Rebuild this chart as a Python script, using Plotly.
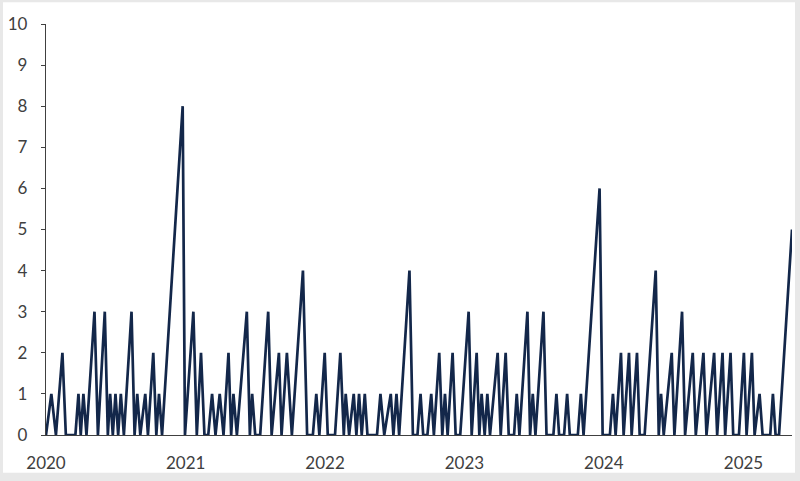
import plotly.graph_objects as go

dates = [
    "2020-01-01", "2020-01-15", "2020-01-27", "2020-02-13", "2020-02-22", "2020-03-18", "2020-03-26",
    "2020-04-01", "2020-04-08", "2020-04-16", "2020-05-07", "2020-05-16", "2020-06-03", "2020-06-11",
    "2020-06-17", "2020-06-24", "2020-07-01", "2020-07-08", "2020-07-15", "2020-07-23", "2020-08-12",
    "2020-08-20", "2020-08-27", "2020-09-04", "2020-09-17", "2020-09-24", "2020-10-08", "2020-10-16",
    "2020-10-23", "2020-10-31", "2020-12-24", "2020-12-30",
    "2021-01-21", "2021-01-30", "2021-02-10", "2021-02-19", "2021-03-01", "2021-03-11", "2021-03-20",
    "2021-03-31", "2021-04-10", "2021-04-23", "2021-04-30", "2021-05-06", "2021-05-15", "2021-06-10",
    "2021-06-18", "2021-06-24", "2021-07-02", "2021-07-15", "2021-08-05", "2021-08-14", "2021-09-02",
    "2021-09-09", "2021-09-23", "2021-10-06", "2021-11-04", "2021-11-15", "2021-11-30", "2021-12-09",
    "2021-12-17", "2021-12-31",
    "2022-01-08", "2022-01-27", "2022-02-10", "2022-02-19", "2022-02-24", "2022-03-05", "2022-03-17",
    "2022-03-24", "2022-03-31", "2022-04-07", "2022-04-15", "2022-04-22", "2022-05-17", "2022-05-26",
    "2022-06-05", "2022-06-22", "2022-06-29", "2022-07-07", "2022-07-14", "2022-08-10", "2022-08-19",
    "2022-08-31", "2022-09-08", "2022-09-15", "2022-09-26", "2022-10-06", "2022-10-13", "2022-10-27",
    "2022-11-04", "2022-11-11", "2022-11-18", "2022-12-01", "2022-12-09", "2022-12-21",
    "2023-01-12", "2023-01-20", "2023-02-02", "2023-02-09", "2023-02-15", "2023-02-23", "2023-03-02",
    "2023-03-09", "2023-03-29", "2023-04-06", "2023-04-19", "2023-04-27", "2023-05-11", "2023-05-18",
    "2023-05-25", "2023-06-15", "2023-06-22", "2023-06-29", "2023-07-06", "2023-07-27", "2023-08-04",
    "2023-08-22", "2023-08-30", "2023-09-06", "2023-09-19", "2023-09-27", "2023-10-04", "2023-10-25",
    "2023-11-02", "2023-11-09", "2023-12-21", "2023-12-29",
    "2024-01-17", "2024-01-25", "2024-02-01", "2024-02-15", "2024-02-22", "2024-03-07", "2024-03-14",
    "2024-03-28", "2024-04-04", "2024-04-17", "2024-05-16", "2024-05-24", "2024-05-30", "2024-06-06",
    "2024-06-27", "2024-07-04", "2024-07-24", "2024-08-01", "2024-08-21", "2024-08-29", "2024-09-18",
    "2024-09-26", "2024-10-16", "2024-10-24", "2024-11-07", "2024-11-14", "2024-11-28", "2024-12-05",
    "2024-12-20",
    "2025-01-02", "2025-01-09", "2025-01-23", "2025-01-30", "2025-02-12", "2025-02-20", "2025-03-12",
    "2025-03-19", "2025-03-26", "2025-04-04", "2025-05-08",
]

counts = [
    0, 1, 0, 2, 0, 0, 1,
    0, 1, 0, 3, 0, 3, 0,
    1, 0, 1, 0, 1, 0, 3,
    0, 1, 0, 1, 0, 2, 0,
    1, 0, 8, 0,
    3, 0, 2, 0, 0, 1, 0,
    1, 0, 2, 0, 1, 0, 3,
    0, 1, 0, 0, 3, 0, 2,
    0, 2, 0, 4, 0, 0, 1,
    0, 2,
    0, 0, 2, 0, 1, 0, 1,
    0, 1, 0, 1, 0, 0, 1,
    0, 1, 0, 1, 0, 4, 0,
    0, 1, 0, 0, 1, 0, 2,
    0, 1, 0, 2, 0, 0,
    3, 0, 2, 0, 1, 0, 1,
    0, 2, 0, 2, 0, 0, 1,
    0, 3, 0, 1, 0, 3, 0,
    0, 1, 0, 0, 1, 0, 0,
    1, 0, 6, 0,
    0, 1, 0, 2, 0, 2, 0,
    2, 0, 0, 4, 0, 1, 0,
    2, 0, 3, 0, 2, 0, 2,
    0, 2, 0, 2, 0, 2, 0,
    0,
    2, 0, 2, 0, 1, 0, 0,
    1, 0, 0, 5,
]

x_range = ["2020-01-01", "2025-05-08"]
y_ticks = list(range(0, 11))

LINE = "#13274a"
TEXT = "#404040"
FONT = "Lato"

fig = go.Figure()
fig.add_trace(go.Scatter(
    x=dates, y=counts, mode="lines",
    line=dict(color=LINE, width=2.7),
    cliponaxis=False, hoverinfo="skip",
))

# light grey frame around a white card
fig.add_shape(type="rect", xref="paper", yref="paper", layer="below",
              x0=-0.0576, x1=1.004, y0=-0.092, y1=1.053,
              fillcolor="white", line=dict(width=0))

fig.update_layout(
    width=800, height=481,
    margin=dict(l=45, r=8, t=24, b=44),
    paper_bgcolor="#e8e8e8",
    plot_bgcolor="rgba(0,0,0,0)",
    showlegend=False,
    font=dict(family=FONT, size=17, color=TEXT),
    xaxis=dict(
        type="date", range=x_range,
        tick0="2020-01-01", dtick="M12", tickformat="%Y",
        showgrid=False, zeroline=False,
        showline=True, linecolor="#404040", linewidth=1.2,
        ticks="", ticklabelstandoff=12,
        tickfont=dict(family=FONT, size=17, color=TEXT),
    ),
    yaxis=dict(
        range=[0, 10], tickvals=y_ticks,
        showgrid=False, zeroline=False,
        showline=True, linecolor="#404040", linewidth=1.2,
        ticks="outside", ticklen=4, tickcolor="#404040",
        ticklabelstandoff=10,
        tickfont=dict(family=FONT, size=17, color=TEXT),
    ),
)

fig.write_html(
    "out.html",
    config={"displayModeBar": False, "staticPlot": True},
    post_script="document.body.style.margin='0px';document.body.style.overflow='hidden';",
)
